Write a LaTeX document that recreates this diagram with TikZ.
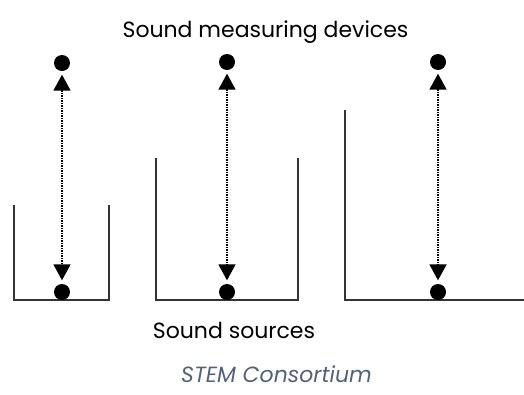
\documentclass[tikz,border=0pt]{standalone}
\usepackage{fontspec}
\setmainfont{Poppins}
\usetikzlibrary{arrows.meta}
\definecolor{wallc}{HTML}{333333}
\definecolor{creditc}{HTML}{52627A}
\tikzset{
  wall/.style={draw=wallc, line width=1.4pt},
  dotnode/.style={circle, fill=black, inner sep=0pt, minimum size=16pt},
  link/.style={line width=1.8pt, dash pattern=on 1.6pt off 0.9pt,
    {Triangle[width=17pt,length=16pt]}-{Triangle[width=17pt,length=16pt]},
    shorten <=3.5pt, shorten >=3.5pt},
  lbl/.style={inner sep=0pt, anchor=base, text=black, font=\fontsize{22}{26}\selectfont}
}
\begin{document}
\begin{tikzpicture}[x=1pt,y=-1pt]
\useasboundingbox (0,0) rectangle (524,394);
% containers
\draw[wall] (14,205) -- (14,300) -- (109,300) -- (109,205);
\draw[wall] (156,158) -- (156,300) -- (298,300) -- (298,158);
\draw[wall] (345,110) -- (345,300) -- (524,300);
% dots
\node[dotnode] (t1) at (62,63) {};
\node[dotnode] (t2) at (227,62) {};
\node[dotnode] (t3) at (438,62) {};
\node[dotnode] (b1) at (62,292) {};
\node[dotnode] (b2) at (227,292) {};
\node[dotnode] (b3) at (438,292) {};
\draw[link] (t1) -- (b1);
\draw[link] (t2) -- (b2);
\draw[link] (t3) -- (b3);
% labels
\node[lbl] (top) at (265.5,37) {Sound measuring devices};
\node[lbl] (src) at (234,338) {Sound sources};
\node[lbl, text=creditc, font=\fontsize{22}{26}\selectfont\itshape] (cred) at (276.5,382) {STEM Consortium};
\end{tikzpicture}
\end{document}
